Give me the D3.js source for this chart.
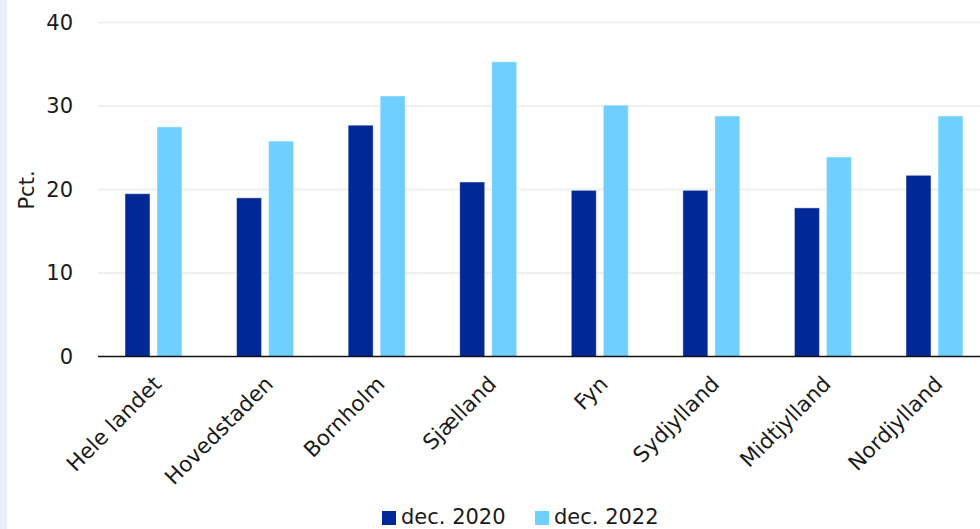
<!DOCTYPE html>
<html><head><meta charset="utf-8">
<script src="https://cdn.jsdelivr.net/npm/d3@7"></script>
<style>
body{margin:0;background:#fff;overflow:hidden;}
svg{display:block;font-family:"DejaVu Sans",sans-serif;}
</style></head>
<body><svg id="c" width="980" height="529"></svg>
<script>
const categories=["Hele landet","Hovedstaden","Bornholm","Sjælland","Fyn","Sydjylland","Midtjylland","Nordjylland"];
const seriesNames=["dec. 2020","dec. 2022"];
const dec2020=[19.5,19.0,27.7,20.9,19.9,19.9,17.8,21.7];
const dec2022=[27.5,25.8,31.2,35.3,30.1,28.8,23.9,28.8];
const yTicks=[0,10,20,30,40];
const colors=["#002896","#6fd0ff"];

const svg=d3.select("#c");
svg.append("rect").attr("x",0).attr("y",0).attr("width",7).attr("height",529).attr("fill","#ebeef8");
const x=d3.scaleBand().domain(categories).range([97.7,990.3]);
const y=d3.scaleLinear().domain([0,40]).range([356.5,22.5]);

svg.append("g").selectAll("line").data(yTicks.filter(d=>d>0)).join("line")
 .attr("x1",98).attr("x2",980).attr("y1",d=>y(d)).attr("y2",d=>y(d))
 .attr("stroke","#efefef").attr("stroke-width",2);
svg.append("g").selectAll("text").data(yTicks).join("text")
 .attr("x",73).attr("y",d=>y(d)).attr("dy","0.35em").attr("text-anchor","end")
 .attr("font-size",21).attr("fill","#1a1a1a").text(d=>d);

const data=[dec2020,dec2022];
const barW=25, gap=7;
data.forEach((vals,si)=>{
  svg.append("g").selectAll("rect").data(vals).join("rect")
   .attr("x",(d,i)=>x(categories[i])+x.bandwidth()/2+(si===0?-(barW+gap/2):gap/2))
   .attr("y",d=>y(d)).attr("width",barW).attr("height",d=>y(0)-y(d))
   .attr("fill",colors[si]).attr("stroke","rgba(255,255,255,0.45)").attr("stroke-width",1);
});
svg.append("line").attr("x1",98).attr("x2",980).attr("y1",y(0)).attr("y2",y(0))
 .attr("stroke","#111").attr("stroke-width",1.5);

svg.append("g").selectAll("text").data(categories).join("text")
 .attr("transform",d=>`translate(${x(d)+x.bandwidth()/2+4},${380}) rotate(-45)`)
 .attr("text-anchor","end").attr("dy","0.35em").attr("font-size",21.5).attr("fill","#1a1a1a").text(d=>d);

svg.append("text").attr("transform","translate(27,190) rotate(-90)")
 .attr("text-anchor","middle").attr("dy","0.35em").attr("font-size",21).attr("fill","#1a1a1a").text("Pct.");

const lg=svg.append("g");
const lx=[382,535];
seriesNames.forEach((n,i)=>{
  lg.append("rect").attr("x",lx[i]).attr("y",511).attr("width",14).attr("height",14).attr("fill",colors[i]);
  lg.append("text").attr("x",lx[i]+19).attr("y",517).attr("dy","0.35em").attr("font-size",21).attr("fill","#1a1a1a").text(n);
});
</script></body></html>
